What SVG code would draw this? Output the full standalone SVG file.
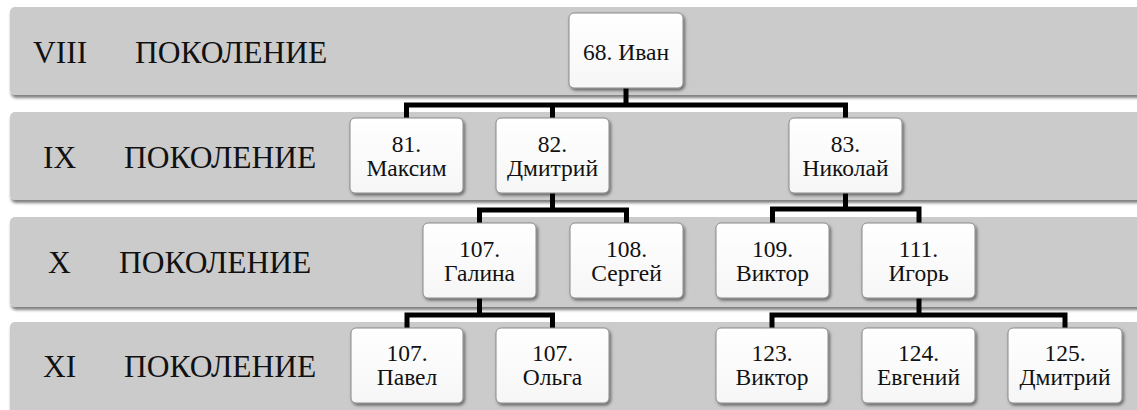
<svg xmlns="http://www.w3.org/2000/svg" width="1137" height="410" viewBox="0 0 1137 410">
<defs>
<filter id="bandShadow" x="-5%" y="-20%" width="110%" height="150%">
<feDropShadow dx="1" dy="3" stdDeviation="1.5" flood-color="#000" flood-opacity="0.5"/>
</filter>
<filter id="boxShadow" x="-10%" y="-10%" width="130%" height="130%">
<feDropShadow dx="1.5" dy="2" stdDeviation="1.5" flood-color="#000" flood-opacity="0.5"/>
</filter>
<linearGradient id="boxFill" x1="0" y1="0" x2="0" y2="1">
<stop offset="0" stop-color="#ffffff"/>
<stop offset="1" stop-color="#f6f6f6"/>
</linearGradient>
</defs>
<style>
.band{fill:#cbcbcb;filter:url(#bandShadow);}
text{font-family:'Liberation Serif','Tinos','Times New Roman','DejaVu Serif',serif;fill:#111;}
.lbl{font-size:31.5px;}
.box{fill:url(#boxFill);stroke:#8a8a8a;stroke-width:1;filter:url(#boxShadow);}
.nt{font-size:23.5px;text-anchor:middle;}
.conn{fill:none;stroke:#000;stroke-width:5;stroke-linejoin:miter;stroke-linecap:butt;}
</style>
<rect width="1137" height="410" fill="#fff"/>
<g id="bands">
<g id="band-viii"><rect class="band" x="10" y="7" width="1140" height="88" rx="5"/>
<text class="lbl" x="33" y="63">VIII</text><text class="lbl" x="135" y="63">ПОКОЛЕНИЕ</text></g>
<g id="band-ix"><rect class="band" x="10" y="112" width="1140" height="88" rx="5"/>
<text class="lbl" x="43" y="168">IX</text><text class="lbl" x="124" y="168">ПОКОЛЕНИЕ</text></g>
<g id="band-x"><rect class="band" x="10" y="217" width="1140" height="90" rx="5"/>
<text class="lbl" x="48" y="273">X</text><text class="lbl" x="119" y="273">ПОКОЛЕНИЕ</text></g>
<g id="band-xi"><rect class="band" x="10" y="322" width="1140" height="100" rx="5"/>
<text class="lbl" x="43" y="377">XI</text><text class="lbl" x="124" y="377">ПОКОЛЕНИЕ</text></g>
</g>
<g id="connectors">
<path class="conn" d="M406.5,118 V105 H845.5 V118 M626,88 V105 M552.5,105 V118"/>
<path class="conn" d="M552.5,193 V210 M479.5,223 V210 H626.5 V223"/>
<path class="conn" d="M845.5,193 V209 M772.5,223 V209 H919 V223"/>
<path class="conn" d="M479.5,298 V315 M407,328 V315 H552.5 V328"/>
<path class="conn" d="M919,298 V315 M772,328 V315 H1065 V328"/>
</g>
<g id="n68"><rect class="box" x="569" y="13" width="114" height="75" rx="5"/><text class="nt" x="626" y="60">68. Иван</text></g>
<g id="n81"><rect class="box" x="350" y="118" width="113" height="75" rx="5"/><text class="nt" x="406.5" y="152">81.</text><text class="nt" x="406.5" y="176">Максим</text></g>
<g id="n82"><rect class="box" x="496" y="118" width="113" height="75" rx="5"/><text class="nt" x="552.5" y="152">82.</text><text class="nt" x="552.5" y="176">Дмитрий</text></g>
<g id="n83"><rect class="box" x="789" y="118" width="113" height="75" rx="5"/><text class="nt" x="845.5" y="152">83.</text><text class="nt" x="845.5" y="176">Николай</text></g>
<g id="n107g"><rect class="box" x="423" y="223" width="113" height="75" rx="5"/><text class="nt" x="479.5" y="257">107.</text><text class="nt" x="479.5" y="281">Галина</text></g>
<g id="n108"><rect class="box" x="570" y="223" width="113" height="75" rx="5"/><text class="nt" x="626.5" y="257">108.</text><text class="nt" x="626.5" y="281">Сергей</text></g>
<g id="n109"><rect class="box" x="716" y="223" width="113" height="75" rx="5"/><text class="nt" x="772.5" y="257">109.</text><text class="nt" x="772.5" y="281">Виктор</text></g>
<g id="n111"><rect class="box" x="862" y="223" width="113" height="75" rx="5"/><text class="nt" x="918.5" y="257">111.</text><text class="nt" x="918.5" y="281">Игорь</text></g>
<g id="n107p"><rect class="box" x="351" y="328" width="112" height="75" rx="5"/><text class="nt" x="407" y="361">107.</text><text class="nt" x="407" y="385">Павел</text></g>
<g id="n107o"><rect class="box" x="496" y="328" width="113" height="75" rx="5"/><text class="nt" x="552.5" y="361">107.</text><text class="nt" x="552.5" y="385">Ольга</text></g>
<g id="n123"><rect class="box" x="716" y="328" width="112" height="75" rx="5"/><text class="nt" x="772" y="361">123.</text><text class="nt" x="772" y="385">Виктор</text></g>
<g id="n124"><rect class="box" x="862" y="328" width="113" height="75" rx="5"/><text class="nt" x="918.5" y="361">124.</text><text class="nt" x="918.5" y="385">Евгений</text></g>
<g id="n125"><rect class="box" x="1008" y="328" width="114" height="75" rx="5"/><text class="nt" x="1065" y="361">125.</text><text class="nt" x="1065" y="385">Дмитрий</text></g>
</svg>
